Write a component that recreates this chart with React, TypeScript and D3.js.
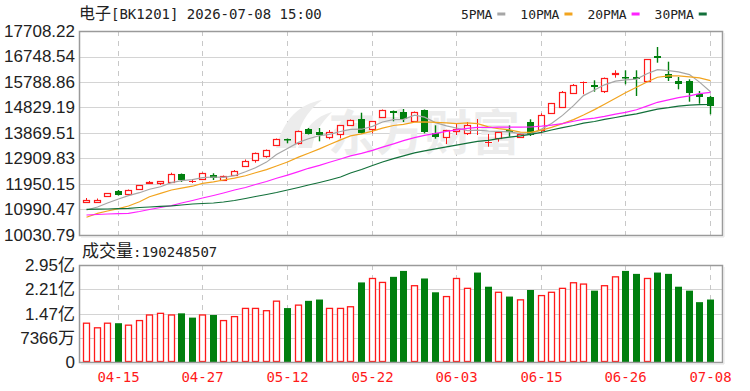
import React, { useEffect, useRef } from 'react'
import * as d3 from 'd3'

const dates = ['04-10','04-13','04-14','04-15','04-16','04-17','04-20','04-21','04-22','04-23','04-24','04-27','04-28','04-29','04-30',
  '05-06','05-07','05-08','05-11','05-12','05-13','05-14','05-15','05-18','05-19','05-20','05-21','05-22','05-25','05-26','05-27','05-28','05-29',
  '06-01','06-02','06-03','06-04','06-05','06-08','06-09','06-10','06-11','06-12','06-15','06-16','06-17','06-18','06-22','06-23','06-24','06-25','06-26','06-29','06-30',
  '07-01','07-02','07-03','07-06','07-07','07-08']

const opens = [11291,11291,11498,11687,11574,11751,11976,11999,12025,12326,12070,12150,12300,12101,12277,
  12646,12853,13004,13429,13655,13482,14009,13907,13708,13832,14159,14385,14009,14460,14709,14660,14310,14735,
  13858,13730,13956,13858,13990,13520,13670,13982,13719,14295,13982,14611,14848,15386,15780,15665,15450,16079,15977,15977,15826,
  16767,16101,15826,15826,15326,15224]
const closes = [11355,11348,11600,11536,11724,11901,12014,12052,12326,12101,12070,12375,12176,12251,12428,
  12834,13128,13230,13655,13606,13956,13832,13783,13907,14159,14359,13858,14310,14735,14611,14396,14671,13918,
  13708,13982,14009,14170,13990,13520,13918,13918,13832,13800,14547,14987,15431,15676,15780,15601,15951,16127,15928,15890,16643,
  16681,15928,15702,15386,15224,14886]
const highs = [11423,11404,11611,11724,11743,11912,12063,12063,12375,12345,12138,12383,12353,12270,12477,
  12872,13135,13249,13662,13662,13963,14058,14058,13982,14170,14377,14633,14321,14754,14716,14773,14680,14754,
  14159,13990,14234,14283,14396,13832,13926,14152,13869,14385,14611,15000,15450,15713,15807,15853,15958,16229,16229,16229,16654,
  17106,16553,15977,15890,15450,15262]
const lows = [11284,11273,11461,11517,11498,11743,11969,11912,12025,12025,11988,12127,12101,12082,12270,
  12627,12752,12940,13418,13482,13429,13813,13557,13632,13670,14151,13850,13858,14453,14310,14283,14283,13858,
  13655,13455,13794,13794,13794,13354,13542,13730,13681,13757,13858,14603,14848,15337,15326,15424,15375,15951,15702,15262,15807,
  16515,15826,15514,15047,14972,14573]

// 成交量, 单位: 亿
const volumes = [1.18,1.04,1.18,1.18,1.12,1.26,1.43,1.48,1.43,1.48,1.35,1.43,1.43,1.26,1.38,
  1.63,1.63,1.56,1.85,1.64,1.73,1.86,1.90,1.63,1.63,1.68,2.42,2.54,2.42,2.59,2.77,2.32,2.54,
  2.12,1.99,2.54,2.24,2.72,2.29,2.12,1.99,1.89,2.19,2.02,2.12,2.24,2.41,2.37,2.17,2.32,2.59,2.77,2.68,2.54,
  2.72,2.68,2.29,2.17,1.82,1.90]

const ma5 = [10972,11085,11235,11386,11514,11623,11754,11845,12003,12078,12116,12187,12214,12198,12262,
  12413,12564,12774,13057,13290,13516,13655,13768,13817,13926,14009,14012,14118,14283,14374,14381,14543,14468,
  14261,14137,14058,13956,13979,13945,13933,13915,13847,13817,14016,14227,14532,14901,15277,15488,15683,15823,15872,15898,16109,
  16256,16214,16169,16067,15785,15424]
const ma10 = [10697,10847,10934,11021,11122,11284,11472,11600,11724,11796,11867,11973,12029,12101,12172,
  12262,12375,12492,12627,12778,12962,13109,13271,13437,13610,13760,13836,13941,14050,14152,14193,14280,14291,
  14272,14253,14219,14250,14223,14103,14035,13986,13903,13896,13979,14080,14223,14374,14547,14750,14953,15175,15386,15589,15800,
  15969,16018,16018,15984,15947,15838]
const ma20 = [10783,10802,10821,10832,10847,10915,10990,11066,11141,11235,11329,11423,11517,11611,11724,
  11818,11931,12044,12165,12285,12417,12541,12650,12767,12891,13011,13105,13218,13339,13463,13580,13693,13783,
  13854,13933,13990,14043,14084,14076,14091,14091,14091,14095,14125,14167,14223,14313,14385,14426,14494,14581,14645,14743,14889,
  15025,15119,15198,15266,15348,15397]
const ma30 = [10998,11002,11009,11021,11036,11066,11085,11111,11130,11160,11197,11216,11235,11273,11329,
  11404,11480,11555,11630,11724,11818,11912,12007,12101,12214,12364,12496,12646,12778,12906,13008,13121,13196,
  13271,13346,13414,13486,13553,13595,13655,13715,13764,13820,13896,13982,14069,14152,14238,14302,14381,14453,14520,14592,14682,
  14769,14822,14882,14916,14934,14942]

const priceTicks = [10030.79,10990.47,11950.15,12909.83,13869.51,14829.19,15788.86,16748.54,17708.22]
const priceTickLabels = ['10030.79','10990.47','11950.15','12909.83','13869.51','14829.19','15788.86','16748.54','17708.22']
const volTicks = [0,0.7366,1.47,2.21,2.95]
const volTickLabels = ['0','7366万','1.47亿','2.21亿','2.95亿']
const xTickDates = ['04-15','04-27','05-12','05-22','06-03','06-15','06-26','07-08']

const maNames = ['5PMA','10PMA','20PMA','30PMA']
const maSeries = [ma5, ma10, ma20, ma30]
const maColors = ['#a6a6a6','#f2a41e','#ff22ff','#12703a']

const RED = '#ff1a1a'
const GREEN = '#007f0e'
const SANS = '"Liberation Sans", Arial, "Noto Sans CJK SC", sans-serif'
const MONO = '"DejaVu Sans Mono", monospace'
const CJK = '"Noto Sans CJK SC", sans-serif'

function drawChart(el: SVGSVGElement) {
  const svg = d3.select(el)
  svg.selectAll('*').remove()

  const left = 79, right = 722
  const top = 31, bottom = 235
  const vTop = 265, vBottom = 362

  const x = d3.scaleBand().domain(dates).range([80.7, 715.3])
  const cx = (d: string) => Math.round((x(d) as number) + x.bandwidth() / 2)
  const y = d3.scaleLinear().domain([priceTicks[0], priceTicks[priceTicks.length - 1]]).range([bottom, top])
  const yv = d3.scaleLinear().domain([0, volTicks[volTicks.length - 1]]).range([vBottom, vTop])

  svg.append('rect').attr('width', 750).attr('height', 391).attr('fill', '#fff')

  // title
  const title = svg.append('text').attr('x', 79).attr('y', 19).attr('fill', '#222')
  title.append('tspan').attr('font-family', CJK).attr('font-size', 16).text('电子')
  title.append('tspan').attr('font-family', MONO).attr('font-size', 14).text('[BK1201] 2026-07-08 15:00')

  // legend
  let lx = 461
  maNames.forEach((name, i) => {
    const t = svg.append('text').attr('x', lx).attr('y', 19)
      .attr('font-family', MONO).attr('font-size', 13).attr('fill', '#222').text(name)
    const w = (t.node() as SVGTextElement).getComputedTextLength()
    svg.append('rect').attr('x', lx + w + 5).attr('y', 12.5).attr('width', 8).attr('height', 3).attr('fill', maColors[i])
    lx = lx + w + 5 + 8 + 15
  })

  const panels = [
    { t: top, b: bottom, ys: y, ticks: priceTicks },
    { t: vTop, b: vBottom, ys: yv, ticks: volTicks },
  ]
  panels.forEach(p => {
    const g = svg.append('g')
    g.selectAll('.hgrid').data(p.ticks).enter().append('line')
      .attr('x1', left).attr('x2', right)
      .attr('y1', d => Math.round(p.ys(d)) + 0.5).attr('y2', d => Math.round(p.ys(d)) + 0.5)
      .attr('stroke', '#d4d4d4').attr('stroke-width', 1.2)
    g.selectAll('.vgrid').data(xTickDates).enter().append('line')
      .attr('x1', d => cx(d) + 0.5).attr('x2', d => cx(d) + 0.5)
      .attr('y1', p.t).attr('y2', p.b)
      .attr('stroke', '#c8c8c8').attr('stroke-width', 1).attr('stroke-dasharray', '5,5')
  })

  // watermark
  svg.append('text').attr('x', 328).attr('y', 150)
    .attr('font-family', CJK).attr('font-size', 48).attr('font-weight', 'bold')
    .attr('fill', '#ececec').text('东方财富')
  svg.append('path')
    .attr('d', 'M276,148 C284,118 300,104 322,100 C306,112 298,126 296,148 Z M298,148 C304,128 316,116 332,112 C320,124 314,134 312,148 Z')
    .attr('fill', '#ececec')

  // candles
  const idx = d3.range(dates.length)
  const cg = svg.append('g')
  idx.forEach(i => {
    const xc = cx(dates[i])
    const o = opens[i], c = closes[i]
    const up = c >= o
    const col = up ? RED : GREEN
    const yTop = Math.round(y(Math.max(o, c)))
    const yBot = Math.round(y(Math.min(o, c)))
    const yH = y(highs[i]), yL = y(lows[i])
    if (up) {
      if (yH < yTop) cg.append('line').attr('x1', xc + 0.5).attr('x2', xc + 0.5).attr('y1', yH).attr('y2', yTop).attr('stroke', col)
      if (yL > yBot) cg.append('line').attr('x1', xc + 0.5).attr('x2', xc + 0.5).attr('y1', yBot).attr('y2', yL).attr('stroke', col)
      if (yBot - yTop < 1) {
        cg.append('line').attr('x1', xc - 3).attr('x2', xc + 4).attr('y1', yTop + 0.5).attr('y2', yTop + 0.5).attr('stroke', col)
      } else {
        cg.append('rect').attr('x', xc - 2.5).attr('y', yTop + 0.5).attr('width', 6).attr('height', yBot - yTop)
          .attr('fill', '#fff').attr('stroke', col).attr('stroke-width', 1.2)
      }
    } else {
      cg.append('line').attr('x1', xc + 0.5).attr('x2', xc + 0.5).attr('y1', yH).attr('y2', yL).attr('stroke', col).attr('stroke-width', 1.4)
      cg.append('rect').attr('x', xc - 3).attr('y', yTop).attr('width', 7).attr('height', Math.max(1.5, yBot - yTop))
        .attr('fill', col)
    }
  })

  // moving averages
  maSeries.forEach((s, k) => {
    const line = d3.line<number>().x((d, i) => cx(dates[i]) + 0.5).y(d => y(d))
    svg.append('path').attr('d', line(s) as string).attr('fill', 'none')
      .attr('stroke', maColors[k]).attr('stroke-width', 1.2)
  })

  // volume
  const vg = svg.append('g')
  idx.forEach(i => {
    const xc = cx(dates[i])
    const o = opens[i], c = closes[i]
    const up = c > o ? true : c < o ? false : (i === 0 || c >= closes[i - 1])
    const yt = yv(volumes[i])
    if (up) {
      vg.append('rect').attr('x', xc - 2.5).attr('y', yt).attr('width', 6).attr('height', vBottom - yt - 0.5)
        .attr('fill', '#fff').attr('stroke', RED).attr('stroke-width', 1.3)
    } else {
      vg.append('rect').attr('x', xc - 3).attr('y', yt).attr('width', 7).attr('height', vBottom - yt)
        .attr('fill', GREEN)
    }
  })

  // frames
  panels.forEach(p => {
    svg.append('rect').attr('x', left + 0.5).attr('y', p.t + 0.5).attr('width', right - left).attr('height', p.b - p.t)
      .attr('fill', 'none').attr('stroke', '#9a9a9a').attr('stroke-width', 1.5)
    svg.append('polyline')
      .attr('points', `${right + 2},${p.t + 2} ${right + 2},${p.b + 2} ${left + 2},${p.b + 2}`)
      .attr('fill', 'none').attr('stroke', '#e2e2e2').attr('stroke-width', 1)
  })

  // y axes
  const ya = svg.append('g').attr('transform', `translate(${left},0)`)
    .call(d3.axisLeft(y).tickValues(priceTicks).tickFormat((d, i) => priceTickLabels[i]).tickSize(0).tickPadding(4))
  const va = svg.append('g').attr('transform', `translate(${left},0)`)
    .call(d3.axisLeft(yv).tickValues(volTicks).tickFormat((d, i) => volTickLabels[i]).tickSize(0).tickPadding(4))
  ;[ya, va].forEach(a => {
    a.select('.domain').remove()
    a.selectAll('text').attr('font-family', SANS).attr('font-size', 17).attr('fill', '#222')
  })

  // x axis labels
  const xa = svg.append('g').attr('transform', `translate(0,${vBottom})`)
    .call(d3.axisBottom(x).tickValues(xTickDates).tickSize(0).tickPadding(10))
  xa.select('.domain').remove()
  xa.selectAll('text').attr('font-family', MONO).attr('font-size', 14).attr('fill', RED)
    .attr('transform', `translate(${-x.bandwidth() / 2 + 0.5 + 0},0)`)
  xa.selectAll('.tick').each(function (d: any) {
    d3.select(this).attr('transform', `translate(${cx(d) + 0.5},0)`)
  })
  xa.selectAll('text').attr('transform', null)

  // volume title
  const vt = svg.append('text').attr('x', 82).attr('y', 257).attr('fill', '#222')
  vt.append('tspan').attr('font-family', CJK).attr('font-size', 17).text('成交量')
  vt.append('tspan').attr('font-family', MONO).attr('font-size', 14).text(':190248507')
}

export default function App() {
  const ref = useRef<SVGSVGElement>(null)
  useEffect(() => {
    if (ref.current) drawChart(ref.current)
  }, [])
  return (
    <svg ref={ref} width={750} height={391}
      style={{ position: 'absolute', left: 0, top: 0, display: 'block' }} />
  )
}
